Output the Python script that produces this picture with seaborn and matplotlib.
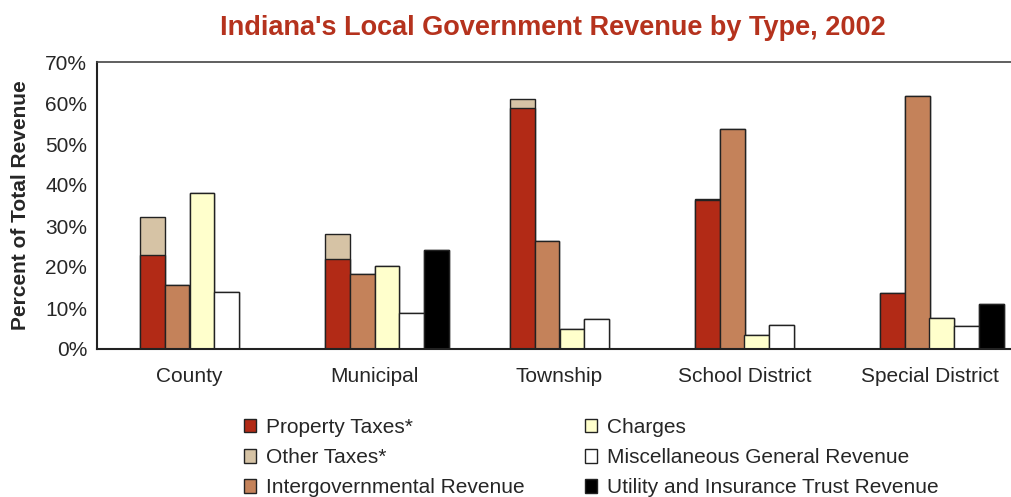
#!/usr/bin/env python3
import matplotlib
matplotlib.use("Agg")
import matplotlib.pyplot as plt
import seaborn as sns
import pandas as pd
from matplotlib.patches import Patch
from matplotlib.ticker import FuncFormatter

CATEGORIES = ["County", "Municipal", "Township", "School District", "Special District"]
PROPERTY_TAXES = [22.9, 22.0, 58.7, 36.3, 13.6]
OTHER_TAXES = [9.3, 6.0, 2.3, 0.4, 0.0]
INTERGOV = [15.5, 18.4, 26.3, 53.6, 61.6]
CHARGES = [38.0, 20.3, 5.0, 3.3, 7.6]
MISC = [13.9, 8.8, 7.2, 5.9, 5.6]
UTILITY = [0.0, 24.2, 0.0, 0.0, 11.0]

LABELS = ["Property Taxes*", "Other Taxes*", "Intergovernmental Revenue",
          "Charges", "Miscellaneous General Revenue", "Utility and Insurance Trust Revenue"]
COLORS = ["#B22A16", "#D6C3A5", "#C4825A", "#FFFFCC", "#FFFFFF", "#000000"]

# excel layout had 6 slots per group, first one empty
SLOTS = ["_gap", "Taxes", "Intergov", "Charges", "Misc", "Utility"]

sns.set_style("white")
plt.rcParams["font.family"] = ["Liberation Sans", "DejaVu Sans"]


def make_df(taxes):
    rows = []
    for i, cat in enumerate(CATEGORIES):
        rows.append({"cat": cat, "slot": "Taxes", "value": taxes[i]})
        rows.append({"cat": cat, "slot": "Intergov", "value": INTERGOV[i]})
        rows.append({"cat": cat, "slot": "Charges", "value": CHARGES[i]})
        rows.append({"cat": cat, "slot": "Misc", "value": MISC[i]})
        if UTILITY[i] > 0:
            rows.append({"cat": cat, "slot": "Utility", "value": UTILITY[i]})
    return pd.DataFrame(rows)


# total taxes first (other taxes colour), property taxes drawn over it
df_total = make_df([p + o for p, o in zip(PROPERTY_TAXES, OTHER_TAXES)])
df_prop = make_df(PROPERTY_TAXES)

fig = plt.figure(figsize=(10.12, 4.97), dpi=100)
ax = fig.add_axes([97 / 1012, 1 - 349 / 497, 925 / 1012, 287 / 497])

pal = {"_gap": "white", "Taxes": COLORS[1], "Intergov": COLORS[2],
       "Charges": COLORS[3], "Misc": COLORS[4], "Utility": COLORS[5]}
pal2 = dict(pal)
pal2["Taxes"] = COLORS[0]
for d, p in [(df_total, pal), (df_prop, pal2)]:
    sns.barplot(data=d, x="cat", y="value", hue="slot", hue_order=SLOTS, order=CATEGORIES,
                palette=p, width=0.8, saturation=1, edgecolor="#222222", linewidth=1,
                legend=False, ax=ax)

ax.set_xlim(-0.5, 4.5)
ax.set_ylim(0, 70)
ax.set_yticks(range(0, 71, 10))
ax.yaxis.set_major_formatter(FuncFormatter(lambda v, p: f"{v:.0f}%"))
ax.set_xticks(range(5))
ax.set_xticklabels(CATEGORIES)
ax.set_xticks([i - 0.5 for i in range(6)], minor=True)
ax.tick_params(axis="x", which="major", length=0, labelsize=15, pad=13)
ax.tick_params(axis="x", which="minor", length=5, width=1.2, color="#222222", direction="out")
ax.tick_params(axis="y", length=5, width=1.2, color="#222222", direction="out", labelsize=15, pad=2)
ax.set_xlabel("")
ax.set_ylabel("Percent of Total Revenue", fontsize=15, fontweight="bold", labelpad=11)
for s in ax.spines.values():
    s.set_color("#222222")
    s.set_linewidth(1.5)
ax.spines["top"].set_color("#444444")
ax.spines["top"].set_linewidth(1.2)

fig.text(0.546, 0.944, "Indiana's Local Government Revenue by Type, 2002",
         ha="center", va="center", fontsize=19.5, fontweight="bold", color="#B5321D")

handles = [Patch(facecolor=c, edgecolor="#222222", linewidth=1, label=l) for c, l in zip(COLORS, LABELS)]
fig.legend(handles=handles, ncol=2, loc="center", bbox_to_anchor=(0.584, 0.079),
           frameon=False, fontsize=15, handlelength=0.6, handleheight=0.6,
           handletextpad=0.45, columnspacing=2.9, labelspacing=0.53)

fig.savefig("out.png", dpi=100)
